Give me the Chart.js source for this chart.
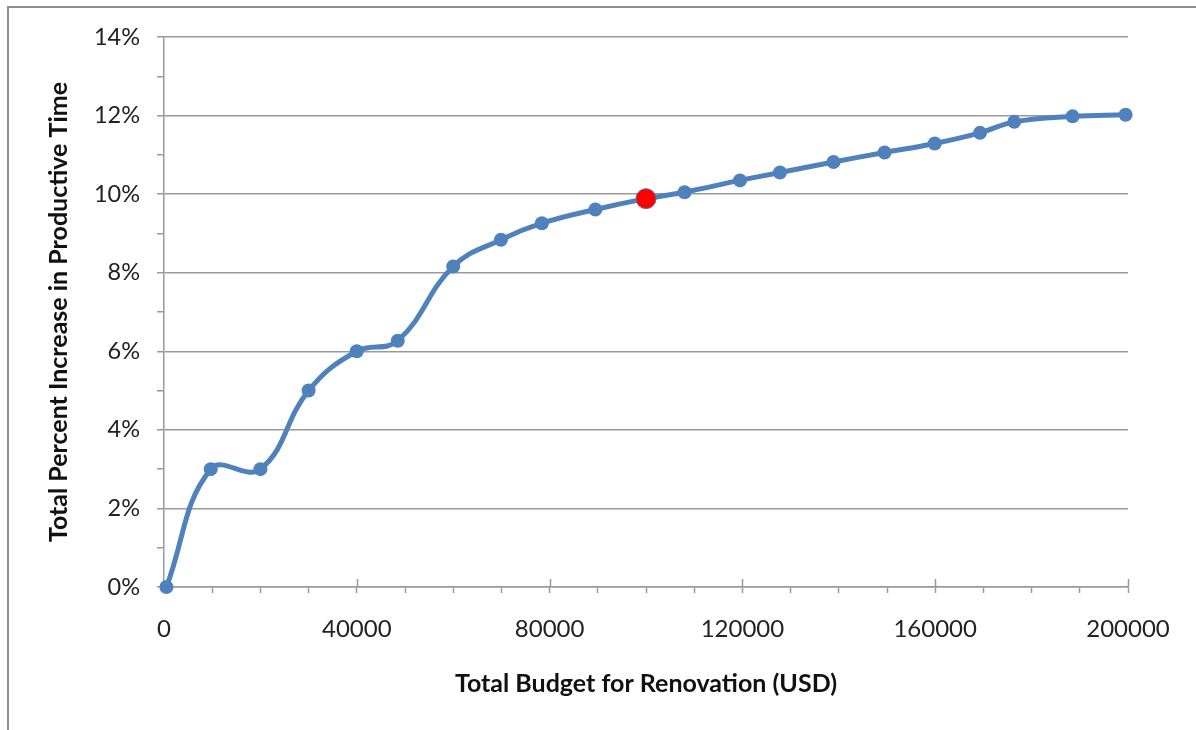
<!DOCTYPE html>
<html>
<head>
<meta charset="utf-8">
<script src="https://cdn.jsdelivr.net/npm/chart.js@4/dist/chart.umd.min.js"></script>
<style>
  html, body { margin: 0; padding: 0; background: #fff; overflow: hidden; }
  #wrap { position: relative; width: 1196px; height: 730px; }
  #frame { position: absolute; left: 7px; top: 6px; width: 1400px; height: 900px;
           border-left: 2px solid #8e8e8e; border-top: 2px solid #8e8e8e; }
  canvas { position: absolute; left: 0; top: 0; }
</style>
</head>
<body>
<div id="wrap">
  <div id="frame"></div>
  <canvas id="chart" width="1196" height="730"></canvas>
</div>
<script>
// Renovation budget (USD) and resulting productive-time gain (%)
const budget = [500, 9700, 20000, 30000, 40000, 48500, 60000, 69900, 78400, 89500,
                100000, 108000, 119500, 127800, 138900, 149500, 159900, 169300, 176400, 188500, 199500];
const increase = [0, 3.0, 3.0, 5.0, 6.0, 6.27, 8.16, 8.84, 9.26, 9.61,
                  9.885, 10.05, 10.35, 10.55, 10.82, 11.06, 11.29, 11.56, 11.84, 11.98, 12.02];
// Highlighted budget level
const highlightBudget = 100000;

// Axis ranges and tick spacing
const xMin = 0, xMax = 200000, xMinorStep = 10000, xLabelStep = 40000;
const yMin = 0, yMax = 14, yMinorStep = 1, yLabelStep = 2;

const blue = '#4F81BD';
const axisGray = '#9a9a9a';
const fontFamily = 'Lato, "Open Sans", sans-serif';

const points = budget.map((b, i) => ({ x: b, y: increase[i] }));
const isHighlight = budget.map(b => b === highlightBudget);

// Longer tick marks at labelled x positions, crossing the axis line
const majorTicks = {
  id: 'majorTicks',
  beforeDatasetsDraw(chart) {
    const xs = chart.scales.x;
    const ctx = chart.ctx;
    ctx.save();
    ctx.strokeStyle = axisGray;
    ctx.lineWidth = 1.5;
    for (let v = xMin; v <= xMax; v += xLabelStep) {
      if (v === xMin) continue;
      const px = Math.round(xs.getPixelForValue(v)) + 0.5;
      ctx.beginPath();
      ctx.moveTo(px, xs.top - 8);
      ctx.lineTo(px, xs.top);
      ctx.stroke();
    }
    ctx.restore();
  }
};

new Chart(document.getElementById('chart'), {
  type: 'line',
  data: {
    datasets: [{
      data: points,
      borderColor: blue,
      borderWidth: 5,
      tension: 0.42,
      clip: false,
      pointRadius: isHighlight.map(h => h ? 10 : 7),
      pointBackgroundColor: isHighlight.map(h => h ? '#FF0000' : blue),
      pointBorderColor: isHighlight.map(h => h ? '#5a6f9a' : blue),
      pointBorderWidth: isHighlight.map(h => h ? 1 : 0)
    }]
  },
  options: {
    responsive: false,
    animation: false,
    events: [],
    layout: { padding: { left: 0, top: 37, right: 68, bottom: 0 } },
    plugins: { legend: { display: false }, tooltip: { enabled: false } },
    scales: {
      x: {
        type: 'linear',
        min: xMin, max: xMax,
        afterFit(scale) { scale.height = 143; },
        border: { display: true, color: axisGray, width: 1.5 },
        grid: { drawOnChartArea: false, drawTicks: true, tickLength: 6, tickColor: axisGray, tickWidth: 1.5 },
        ticks: {
          stepSize: xMinorStep, autoSkip: false, maxRotation: 0, padding: 22,
          color: '#222', font: { family: fontFamily, size: 24 },
          callback: v => (v % xLabelStep === 0 ? String(v) : '')
        },
        title: {
          display: true, text: 'Total Budget for Renovation (USD)', color: '#111',
          font: { family: fontFamily, size: 25, weight: 'bold' },
          padding: { top: 0, bottom: 31 }
        }
      },
      y: {
        type: 'linear',
        min: yMin, max: yMax,
        afterFit(scale) { scale.width = 164; },
        border: { display: true, color: axisGray, width: 1.5 },
        grid: {
          drawTicks: true, tickLength: 7, tickWidth: 1.5, tickColor: axisGray,
          lineWidth: 1.5,
          color: c => (c.tick && c.tick.value % yLabelStep === 0 ? axisGray : 'rgba(0,0,0,0)')
        },
        ticks: {
          stepSize: yMinorStep, autoSkip: false, padding: 17,
          color: '#222', font: { family: fontFamily, size: 23.5 },
          callback: v => (v % yLabelStep === 0 ? v + '%' : '')
        },
        title: {
          display: true, text: 'Total Percent Increase in Productive Time', color: '#111',
          font: { family: fontFamily, size: 25, weight: 'bold' },
          padding: { top: 44, bottom: 0 }
        }
      }
    }
  },
  plugins: [majorTicks]
});
</script>
</body>
</html>
